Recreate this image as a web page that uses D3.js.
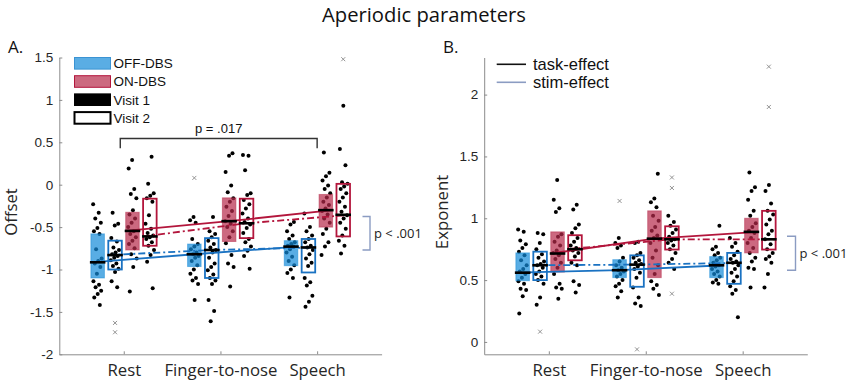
<!DOCTYPE html>
<html><head><meta charset="utf-8">
<script src="https://cdn.jsdelivr.net/npm/d3@7"></script>
<style>
body{margin:0;background:#fff;}
svg{display:block;}
</style></head>
<body><svg id="c" width="848" height="381"></svg>
<script>
// ---------- data ----------
const tasks = ["Rest", "Finger-to-nose", "Speech"];
const groupNames = ["OFF-DBS Visit 1", "OFF-DBS Visit 2", "ON-DBS Visit 1", "ON-DBS Visit 2"];
const offsetTicks = [-2, -1.5, -1, -0.5, 0, 0.5, 1, 1.5];
const exponentTicks = [0, 0.5, 1, 1.5, 2];

// Offset (panel A): points per task [Rest, Finger-to-nose, Speech]
const offsetOffV1 = [
  [-0.23,-0.33,-0.40,-0.45,-0.51,-0.55,-0.58,-0.76,-0.87,-0.90,-0.93,-0.97,-1.05,-1.14,-1.18,-1.21,-1.25,-1.29,-1.33,-1.42],
  [-0.38,-0.42,-0.45,-0.64,-0.70,-0.73,-0.76,-0.80,-0.82,-0.84,-0.86,-0.90,-0.95,-1.00,-1.05,-1.10,-1.13,-1.17,-1.36],
  [-0.44,-0.47,-0.55,-0.60,-0.64,-0.68,-0.70,-0.72,-0.73,-0.76,-0.80,-0.85,-0.90,-0.95,-1.00,-1.04,-1.10,-1.33]];
const offsetOffV2 = [
  [-0.33,-0.46,-0.48,-0.63,-0.67,-0.74,-0.77,-0.80,-0.82,-0.84,-0.86,-0.89,-0.93,-0.96,-0.99,-1.03,-1.14,-1.21],
  [-0.38,-0.55,-0.58,-0.62,-0.66,-0.70,-0.74,-0.77,-0.80,-0.86,-0.93,-0.97,-1.01,-1.06,-1.10,-1.13,-1.17,-1.36,-1.49,-1.61],
  [-0.34,-0.50,-0.55,-0.60,-0.64,-0.68,-0.72,-0.74,-0.77,-0.82,-0.87,-0.92,-0.96,-1.10,-1.15,-1.19,-1.31,-1.38,-1.44]];
const offsetOnV1 = [
  [0.29,0.19,-0.05,-0.11,-0.16,-0.30,-0.35,-0.40,-0.45,-0.50,-0.55,-0.58,-0.62,-0.66,-0.70,-0.75,-0.82,-0.87,-0.97,-1.26],
  [0.37,0.34,0.15,-0.01,-0.09,-0.16,-0.20,-0.26,-0.31,-0.37,-0.43,-0.46,-0.50,-0.55,-0.62,-0.69,-0.83,-0.93,-0.97,-1.20],
  [0.38,0.14,0.10,0.05,-0.01,-0.05,-0.10,-0.15,-0.20,-0.24,-0.28,-0.31,-0.35,-0.40,-0.45,-0.52,-0.58,-0.68,-0.73,-0.83]];
const offsetOnV2 = [
  [0.33,0.01,-0.10,-0.13,-0.16,-0.20,-0.36,-0.46,-0.52,-0.57,-0.60,-0.62,-0.64,-0.68,-0.72,-0.77,-0.83,-0.91,-1.22],
  [0.35,0.34,0.17,-0.10,-0.12,-0.18,-0.23,-0.28,-0.34,-0.40,-0.44,-0.47,-0.51,-0.57,-0.64,-0.68,-0.73,-0.78,-0.84,-0.99],
  [0.93,0.42,0.23,0.03,0.01,-0.02,-0.05,-0.10,-0.15,-0.20,-0.26,-0.32,-0.36,-0.40,-0.45,-0.52,-0.60,-0.66,-0.72,-0.81]];
// outliers per group, per task
const offsetOutliers = [
  [[], [0.08], []],
  [[-1.63,-1.74], [], []],
  [[], [], []],
  [[], [], [1.48]]];
// box stats [group][task]
const offsetQ1  = [[-1.10,-0.965,-0.955],[-1.00,-1.10,-1.035],[-0.77,-0.67,-0.50],[-0.72,-0.63,-0.61]];
const offsetMed = [[-0.915,-0.82,-0.73],[-0.83,-0.77,-0.74],[-0.545,-0.43,-0.30],[-0.61,-0.455,-0.355]];
const offsetQ3  = [[-0.58,-0.70,-0.66],[-0.66,-0.63,-0.64],[-0.325,-0.155,-0.115],[-0.165,-0.165,0.01]];

// Exponent (panel B)
const exponentOffV1 = [
  [0.91,0.89,0.82,0.79,0.76,0.73,0.70,0.66,0.62,0.59,0.57,0.55,0.52,0.49,0.47,0.43,0.42,0.37,0.23],
  [0.84,0.80,0.78,0.76,0.68,0.65,0.62,0.60,0.58,0.57,0.55,0.53,0.50,0.47,0.45,0.41,0.36],
  [0.94,0.77,0.75,0.72,0.70,0.68,0.66,0.64,0.62,0.61,0.59,0.57,0.55,0.53,0.50,0.48,0.47]];
const exponentOffV2 = [
  [0.88,0.87,0.80,0.75,0.71,0.68,0.65,0.63,0.62,0.60,0.57,0.55,0.53,0.50,0.47,0.36,0.30],
  [0.81,0.80,0.72,0.70,0.68,0.66,0.64,0.63,0.61,0.59,0.56,0.52,0.44,0.36,0.31,0.29],
  [0.84,0.80,0.77,0.73,0.70,0.67,0.65,0.64,0.62,0.59,0.56,0.53,0.49,0.45,0.42,0.39,0.20]];
const exponentOnV1 = [
  [1.31,1.15,1.08,1.05,0.87,0.85,0.81,0.78,0.74,0.72,0.70,0.67,0.64,0.60,0.55,0.47,0.44,0.43,0.35],
  [1.36,1.16,1.13,1.09,1.02,0.98,0.93,0.90,0.86,0.84,0.80,0.74,0.68,0.62,0.55,0.49,0.46,0.43,0.38],
  [1.37,1.25,1.22,1.15,1.06,1.02,0.96,0.93,0.90,0.88,0.84,0.80,0.76,0.72,0.68,0.65,0.60,0.59,0.44]];
const exponentOnV2 = [
  [1.11,1.07,0.95,0.92,0.88,0.84,0.81,0.78,0.76,0.74,0.72,0.69,0.64,0.62,0.49,0.46,0.40],
  [1.02,0.97,0.94,0.91,0.88,0.85,0.83,0.82,0.80,0.78,0.75,0.72,0.67,0.64,0.59],
  [1.27,1.22,1.12,1.06,1.03,0.99,0.95,0.90,0.87,0.83,0.79,0.75,0.72,0.69,0.67,0.64,0.55,0.44]];
const exponentOutliers = [
  [[], [1.14], []],
  [[0.083], [-0.06], []],
  [[], [], []],
  [[], [1.33,1.245,0.39], [2.226,1.90]]];
const exponentQ1  = [[0.495,0.52,0.52],[0.50,0.446,0.47],[0.565,0.52,0.72],[0.66,0.747,0.747]];
const exponentMed = [[0.56,0.58,0.62],[0.62,0.625,0.64],[0.715,0.835,0.89],[0.75,0.83,0.83]];
const exponentQ3  = [[0.72,0.665,0.69],[0.73,0.70,0.72],[0.89,1.06,1.00],[0.863,0.935,1.06]];

// ---------- style ----------
const groupOffsets = [-0.27, -0.09, 0.09, 0.27];
const boxW = 0.14;
const blueFill = "#138ad8", blueLine = "#1a72c2";
const redFill = "#b62a4a", redLine = "#b3163c";
const stimColor = "#8b9cc2";
const axisColor = "#8c8c8c";
const numFont = "'Liberation Sans', Arial, sans-serif";
const txtFont = "'Open Sans', 'Noto Sans', sans-serif";

const svg = d3.select("#c");

// scale a text's font size so that it spans a target width
function fitWidth(sel, target) {
  const n = sel.node();
  const fs = parseFloat(sel.attr("font-size"));
  const len = n.getComputedTextLength();
  const nf = len > 0 ? fs * target / len : fs;
  sel.attr("font-size", nf);
  return nf;
}

const title = svg.append("text").attr("x", 424).attr("y", 22).attr("text-anchor", "middle")
  .attr("font-family", txtFont).attr("font-size", 19).attr("fill", "#111")
  .text("Aperiodic parameters");
fitWidth(title, 204);

let labelFs = null;

function drawPanel(cfg) {
  const x = d3.scaleLinear().domain([1/3, 11/3]).range(cfg.xRange);
  const y = d3.scaleLinear().domain(cfg.yDomain).range([354.3, 57.5]);
  const g = svg.append("g");
  const hw = (x(1 + boxW) - x(1)) / 2;

  // axes
  const ax = g.append("g").attr("transform", `translate(${cfg.xRange[0]},0)`)
    .call(d3.axisLeft(y).tickValues(cfg.ticks).tickFormat(v => String(v))
      .tickSizeInner(-3).tickSizeOuter(0).tickPadding(6));
  ax.selectAll("text").attr("font-family", numFont).attr("font-size", 13.5).attr("fill", "#262626");
  const bx = g.append("g").attr("transform", `translate(0,354.3)`)
    .call(d3.axisBottom(x).tickValues([1,2,3]).tickFormat(v => tasks[v-1])
      .tickSizeInner(-3).tickSizeOuter(0).tickPadding(10));
  bx.selectAll("text").attr("font-family", txtFont).attr("font-size", 15.5).attr("fill", "#262626");
  if (labelFs === null) {
    const ftn = bx.selectAll("text").filter(d => d === 2);
    labelFs = fitWidth(ftn, 113);
  }
  bx.selectAll("text").attr("font-size", labelFs).attr("dy", "0.7em");
  [ax, bx].forEach(a => { a.selectAll("path,line").attr("stroke", axisColor); });

  // y label
  g.append("text").attr("transform", `translate(${cfg.yLabelX},${cfg.yLabelY}) rotate(-90)`)
    .attr("text-anchor", "middle").attr("font-family", txtFont).attr("font-size", labelFs)
    .attr("fill", "#262626").text(cfg.yLabel);
  // panel letter
  g.append("text").attr("x", cfg.letterX).attr("y", 53).attr("font-family", txtFont)
    .attr("font-size", 17).attr("fill", "#111").text(cfg.letter);

  const fillC = [blueFill, blueFill, redFill, redFill];
  const lineC = [blueLine, blueLine, redLine, redLine];

  // points
  cfg.points.forEach((grp, gi) => {
    grp.forEach((vals, ti) => {
      const cx = x(ti + 1 + groupOffsets[gi]);
      vals.forEach((v, i) => {
        const j = (((i * 0.618034 + gi * 0.23 + ti * 0.41) % 1) - 0.5) * 9;
        g.append("circle").attr("cx", cx + j).attr("cy", y(v)).attr("r", 2).attr("fill", "#000");
      });
    });
  });

  // boxes
  for (let gi = 0; gi < 4; gi++) {
    for (let ti = 0; ti < 3; ti++) {
      const cx = x(ti + 1 + groupOffsets[gi]);
      const top = y(cfg.q3[gi][ti]), bot = y(cfg.q1[gi][ti]);
      const filled = gi % 2 === 0;
      g.append("rect").attr("x", cx - hw).attr("y", top).attr("width", 2 * hw).attr("height", bot - top)
        .attr("fill", filled ? fillC[gi] : "none").attr("fill-opacity", 0.7)
        .attr("stroke", filled ? fillC[gi] : lineC[gi]).attr("stroke-opacity", filled ? 0.5 : 1)
        .attr("stroke-width", filled ? 1 : 1.8);
    }
  }

  // median connection lines
  const line = d3.line().x(d => d[0]).y(d => y(d[1]));
  for (let gi = 0; gi < 4; gi++) {
    const pts = [
      [x(1 + groupOffsets[gi]) - hw, cfg.med[gi][0]],
      [x(2 + groupOffsets[gi]), cfg.med[gi][1]],
      [x(3 + groupOffsets[gi]) + hw, cfg.med[gi][2]]];
    g.append("path").attr("d", line(pts)).attr("fill", "none").attr("stroke", lineC[gi])
      .attr("stroke-width", 1.8).attr("stroke-dasharray", gi % 2 === 0 ? null : "7,3,2,3");
  }

  // medians
  for (let gi = 0; gi < 4; gi++) {
    for (let ti = 0; ti < 3; ti++) {
      const cx = x(ti + 1 + groupOffsets[gi]);
      g.append("line").attr("x1", cx - hw - 1).attr("x2", cx + hw + 1)
        .attr("y1", y(cfg.med[gi][ti])).attr("y2", y(cfg.med[gi][ti]))
        .attr("stroke", "#000").attr("stroke-width", 2.6);
    }
  }

  // outliers
  cfg.outliers.forEach((grp, gi) => grp.forEach((vals, ti) => vals.forEach(v => {
    const cx = x(ti + 1 + groupOffsets[gi]), cy = y(v), s = 2;
    g.append("path").attr("d", `M${cx-s},${cy-s}L${cx+s},${cy+s}M${cx-s},${cy+s}L${cx+s},${cy-s}`)
      .attr("stroke", "#888").attr("stroke-width", 0.9);
  })));

  // stim-effect bracket
  const b = cfg.stimBracket;
  g.append("path").attr("d", `M${b.x0},${y(b.v0)}H${b.x1}V${y(b.v1)}H${b.x0}`)
    .attr("fill", "none").attr("stroke", stimColor).attr("stroke-width", 1.4);
  g.append("text").attr("x", b.x1 + 4).attr("y", (y(b.v0) + y(b.v1)) / 2).attr("dy", "0.35em")
    .attr("font-family", txtFont).attr("font-size", 13).attr("fill", "#222").text("p < .001");

  return {x, y, g};
}

const A = drawPanel({
  xRange: [59.3, 381.6], yDomain: [-2, 1.5], ticks: offsetTicks,
  yLabel: "Offset", yLabelX: 17, yLabelY: 212, letter: "A.", letterX: 8,
  points: [offsetOffV1, offsetOffV2, offsetOnV1, offsetOnV2],
  outliers: offsetOutliers, q1: offsetQ1, med: offsetMed, q3: offsetQ3,
  stimBracket: {x0: 362.5, x1: 370, v0: -0.375, v1: -0.77}
});
const B = drawPanel({
  xRange: [484.2, 807.3], yDomain: [-0.1, 2.3], ticks: exponentTicks,
  yLabel: "Exponent", yLabelX: 448, yLabelY: 212, letter: "B.", letterX: 443,
  points: [exponentOffV1, exponentOffV2, exponentOnV1, exponentOnV2],
  outliers: exponentOutliers, q1: exponentQ1, med: exponentMed, q3: exponentQ3,
  stimBracket: {x0: 787, x1: 795.5, v0: 0.855, v1: 0.58}
});

// task-effect bracket in panel A
{
  const x = A.x, y = A.y;
  const xl = x(1) - 3.5, xr = x(3), yt = y(0.545), yb = y(0.43);
  A.g.append("path").attr("d", `M${xl},${yb}V${yt}H${xr}V${yb}`).attr("fill", "none")
    .attr("stroke", "#333").attr("stroke-width", 1.4);
  A.g.append("text").attr("x", (xl + xr) / 2).attr("y", yt - 5).attr("text-anchor", "middle")
    .attr("font-family", numFont).attr("font-size", 13).attr("fill", "#111").text("p = .017");
}

// legend A
const legendA = [
  {label: "OFF-DBS", fill: "#5aade4", stroke: "#3b93d3", sw: 1},
  {label: "ON-DBS", fill: "#cc6a80", stroke: "#b3163c", sw: 1},
  {label: "Visit 1", fill: "#000", stroke: "#000", sw: 1},
  {label: "Visit 2", fill: "#fff", stroke: "#000", sw: 2}];
legendA.forEach((d, i) => {
  const cy = 63.3 + i * 18.2;
  svg.append("rect").attr("x", 74.5).attr("y", cy - 5.8).attr("width", 36).attr("height", 11.6)
    .attr("fill", d.fill).attr("stroke", d.stroke).attr("stroke-width", d.sw);
  svg.append("text").attr("x", 113.5).attr("y", cy).attr("dy", "0.36em")
    .attr("font-family", numFont).attr("font-size", 13.5).attr("fill", "#111").text(d.label);
});

// legend B
const legendB = [{label: "task-effect", color: "#111"}, {label: "stim-effect", color: stimColor}];
let legBFs = 15.5;
legendB.forEach((d, i) => {
  const cy = 64.3 + i * 18;
  svg.append("line").attr("x1", 496.7).attr("x2", 526).attr("y1", cy).attr("y2", cy)
    .attr("stroke", d.color).attr("stroke-width", 1.6);
  const t = svg.append("text").attr("x", 533).attr("y", cy).attr("dy", "0.36em")
    .attr("font-family", numFont).attr("font-size", legBFs).attr("fill", "#111").text(d.label);
  if (i === 0) legBFs = fitWidth(t, 76);
});
</script></body></html>
